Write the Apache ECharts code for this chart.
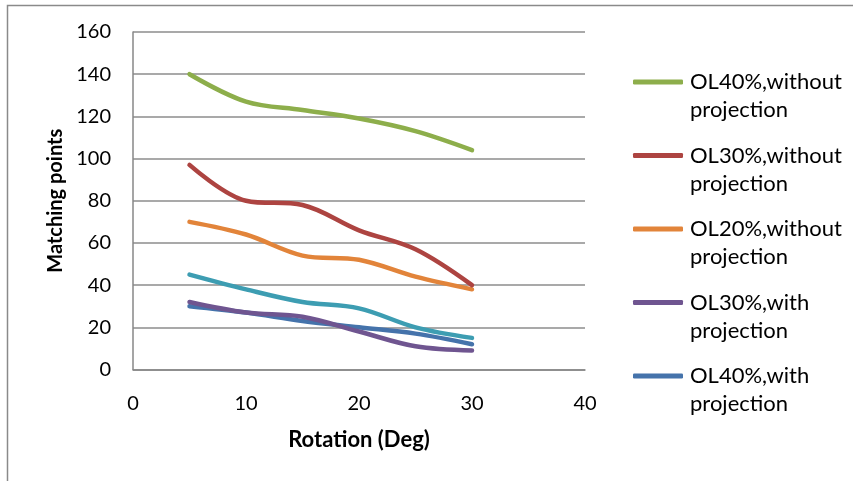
<!DOCTYPE html>
<html>
<head>
<meta charset="utf-8">
<script src="https://cdn.jsdelivr.net/npm/echarts@6/dist/echarts.min.js"></script>
<style>html,body{margin:0;padding:0;background:#fff}#c{width:853px;height:481px}</style>
</head>
<body>
<div id="c"></div>
<script>
var rotation = [5, 10, 15, 20, 25, 30];
var ol40Without = [140, 127, 123, 119, 113, 104];
var ol30Without = [97, 80, 78, 66, 57, 40];
var ol20Without = [70, 64, 54, 52, 44, 38];
var ol30With = [32, 27, 25, 18, 11, 9];
var ol40With = [30, 27, 23, 20, 17, 12];
var ol20With = [45, 38, 32, 29, 20, 15];
var seriesNames = ['OL40%,without projection', 'OL30%,without projection', 'OL20%,without projection', 'OL30%,with projection', 'OL40%,with projection', 'OL20%,with projection'];
var legendNames = seriesNames.slice(0, 5);
var yTicks = [0, 20, 40, 60, 80, 100, 120, 140, 160];
var xTicks = [0, 10, 20, 30, 40];

var colors = ['#8DAE4B', '#AD4441', '#E2843A', '#6F5590', '#4573AB', '#3D9DB2'];
var values = [ol40Without, ol30Without, ol20Without, ol30With, ol40With, ol20With];
var FONT = 'Lato';

function pairs(v) { return rotation.map(function (x, i) { return [x, v[i]]; }); }

var series = values.map(function (v, i) {
  return {
    name: seriesNames[i], type: 'line', data: pairs(v), smooth: 0.35,
    showSymbol: false, symbol: 'none', color: colors[i],
    lineStyle: { width: 4.5, color: colors[i], cap: 'round', join: 'round' },
    z: 10 - i
  };
});

var legendCenters = [82, 155.5, 229, 302.5, 376];
var graphics = [{
  type: 'rect', shape: { x: 7.5, y: 5.5, width: 900, height: 600 },
  style: { fill: 'none', stroke: '#8a8a8a', lineWidth: 1.5 }, silent: true
}];
legendNames.forEach(function (n, i) {
  graphics.push({
    type: 'text', left: 690, top: legendCenters[i] + 30 - 13,
    style: { text: n.split(' ')[1], font: '22px ' + FONT, fill: '#000' }
  });
});

var chart = echarts.init(document.getElementById('c'));
chart.setOption({
  animation: false,
  backgroundColor: '#fff',
  grid: { left: 133, right: 268, top: 32, bottom: 111.5, containLabel: false },
  xAxis: {
    type: 'value', min: xTicks[0], max: xTicks[xTicks.length - 1], interval: 10,
    name: 'Rotation (Deg)', nameLocation: 'middle', nameGap: 59,
    nameTextStyle: { fontFamily: FONT, fontSize: 22, fontWeight: 'bold', color: '#000' },
    axisLine: { lineStyle: { color: '#878787', width: 1.5 } },
    axisTick: { show: false },
    splitLine: { show: false },
    axisLabel: { fontFamily: FONT, fontSize: 20, color: '#000', margin: 24 }
  },
  yAxis: {
    type: 'value', min: yTicks[0], max: yTicks[yTicks.length - 1], interval: 20,
    name: 'Matching points', nameLocation: 'middle', nameGap: 67, nameRotate: 90,
    nameTextStyle: { fontFamily: FONT, fontSize: 20, fontWeight: 'bold', color: '#000' },
    axisLine: { show: true, lineStyle: { color: '#878787', width: 1.5 } },
    axisTick: { show: false },
    splitLine: { show: true, lineStyle: { color: '#8c8c8c', width: 1.5 } },
    axisLabel: { fontFamily: FONT, fontSize: 20, color: '#000', margin: 22 }
  },
  legend: {
    orient: 'vertical', left: 633, top: legendCenters[0] - 13, padding: 0,
    data: legendNames, itemWidth: 50, itemHeight: 5, itemGap: 47.5,
    icon: 'roundRect',
    formatter: function (n) { return n.split(' ')[0]; },
    textStyle: { fontFamily: FONT, fontSize: 22, color: '#000', lineHeight: 26, padding: [0, 0, 0, 2] },
    selectedMode: false
  },
  graphic: graphics,
  series: series
});
</script>
</body>
</html>
